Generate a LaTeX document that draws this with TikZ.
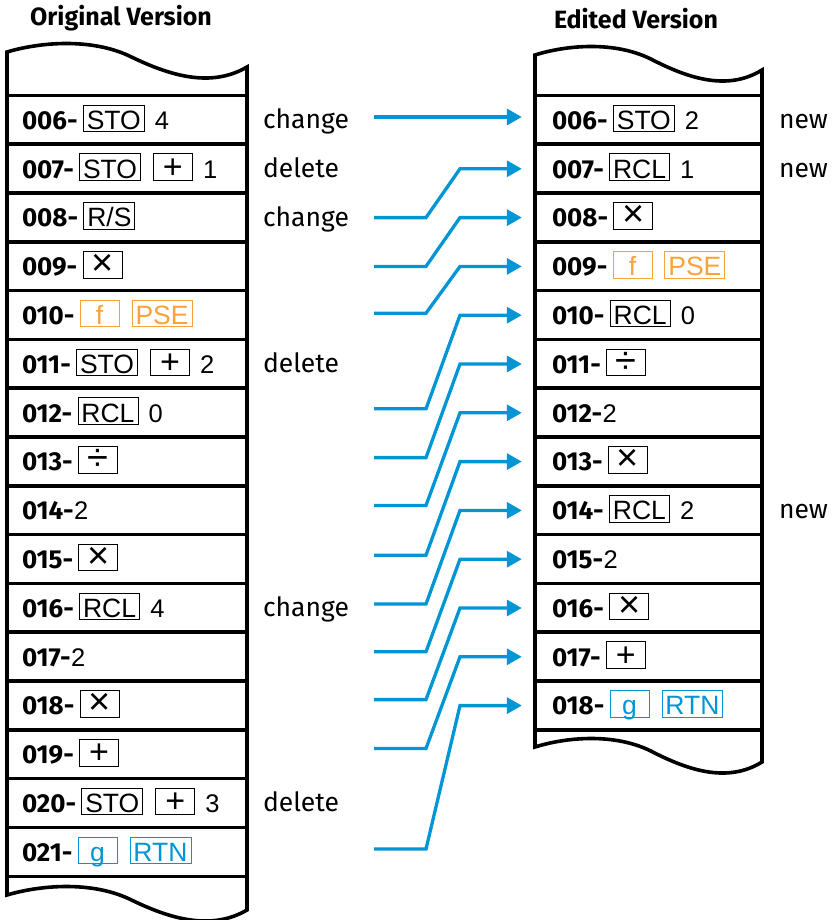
\documentclass[tikz,border=0pt]{standalone}
\usepackage{fontspec}
\setmainfont{Fira Sans}
\newfontfamily\keyfont{Liberation Sans}
\usetikzlibrary{arrows.meta}
\definecolor{hpblue}{RGB}{0,150,214}
\definecolor{hporange}{RGB}{247,163,58}
\newcommand\bigsym[1]{{\fontsize{38}{38}\selectfont #1}}
\newcommand\midsym[1]{{\fontsize{34}{34}\selectfont #1}}
\newcommand\tapeoutline[4]{%
  \draw[tape] (#1,#3) .. controls ({#1+0.14*#2},{#3-10}) and ({#1+0.35*#2},{#3-14}) .. ({#1+0.51*#2},{#3+4})
     .. controls ({#1+0.68*#2},{#3+24}) and ({#1+0.85*#2},{#3+36}) .. ({#1+#2},{#3+15})
     -- ({#1+#2},{#4+15})
     .. controls ({#1+0.85*#2},{#4+36}) and ({#1+0.68*#2},{#4+24}) .. ({#1+0.51*#2},{#4+4})
     .. controls ({#1+0.35*#2},{#4-14}) and ({#1+0.14*#2},{#4-10}) .. (#1,#4) -- cycle;}
\begin{document}
\begin{tikzpicture}[x=1pt,y=-1pt,
  tape/.style={line width=3.6pt, line join=miter},
  divider/.style={line width=3.6pt},
  cell/.style={draw=none, minimum height=48.8pt, inner sep=0pt},
  num/.style={anchor=base west, inner sep=0pt, font=\fontsize{26}{28}\selectfont\bfseries},
  dig/.style={anchor=base west, inner sep=0pt, font=\keyfont\fontsize{25.5}{26}\selectfont},
  lab/.style={anchor=base west, inner sep=0pt, font=\fontsize{26.5}{28}\selectfont},
  title/.style={inner sep=0pt, font=\fontsize{25}{26}\selectfont\bfseries},
  kb/.style={draw, line width=0.9pt, anchor=base west, inner xsep=3.5pt, inner ysep=0pt,
     text height=24.3pt, text depth=2.4pt, minimum width=39pt,
     font=\keyfont\fontsize{26.5}{27}\selectfont},
  okb/.style={kb, draw=hporange, text=hporange},
  bkb/.style={kb, draw=hpblue, text=hpblue},
  arr/.style={draw=hpblue, line width=3.3pt, -{Triangle[length=15pt,width=16pt]}, shorten >=13pt}]
\useasboundingbox (0,0) rectangle (835,920);

% titles
\node[title] (t1) at (121,18) {Original Version};
\node[title] (t2) at (636,19) {Edited Version};

% tapes
\tapeoutline{7}{240}{52}{895}
\tapeoutline{535}{227}{55}{747}

% row cells
\foreach \i in {0,...,15} \node[cell, minimum width=240pt] (L\i) at (127,{120+48.8*\i}) {};
\foreach \i in {0,...,12} \node[cell, minimum width=227pt] (R\i) at (648.5,{120+48.8*\i}) {};
\foreach \i in {0,...,15} \draw[divider] (L\i.north west) -- (L\i.north east);
\draw[divider] (L15.south west) -- (L15.south east);
\foreach \i in {0,...,12} \draw[divider] (R\i.north west) -- (R\i.north east);
\draw[divider] (R12.south west) -- (R12.south east);

% ---- original version ----
\node[num] (nL0) at ([xshift=15pt,yshift=-9.3pt]L0.west) {006-};
\node[kb] (aL0) at ([xshift=5pt]nL0.base east) {STO};
\node[dig] (dL0) at ([xshift=10pt]aL0.base east) {4};

\node[num] (nL1) at ([xshift=15pt,yshift=-9.3pt]L1.west) {007-};
\node[kb] (aL1) at ([xshift=5pt]nL1.base east) {STO};
\node[kb] (bL1) at ([xshift=12pt]aL1.base east) {\midsym{+}};
\node[dig] (dL1) at ([xshift=10pt]bL1.base east) {1};

\node[num] (nL2) at ([xshift=15pt,yshift=-9.3pt]L2.west) {008-};
\node[kb] (aL2) at ([xshift=5pt]nL2.base east) {R/S};

\node[num] (nL3) at ([xshift=15pt,yshift=-9.3pt]L3.west) {009-};
\node[kb] (aL3) at ([xshift=5pt]nL3.base east) {\bigsym{×}};

\node[num] (nL4) at ([xshift=15pt,yshift=-9.3pt]L4.west) {010-};
\node[okb] (aL4) at ([xshift=5pt]nL4.base east) {f};
\node[okb] (bL4) at ([xshift=12pt]aL4.base east) {PSE};

\node[num] (nL5) at ([xshift=15pt,yshift=-9.3pt]L5.west) {011-};
\node[kb] (aL5) at ([xshift=5pt]nL5.base east) {STO};
\node[kb] (bL5) at ([xshift=12pt]aL5.base east) {\midsym{+}};
\node[dig] (dL5) at ([xshift=10pt]bL5.base east) {2};

\node[num] (nL6) at ([xshift=15pt,yshift=-9.3pt]L6.west) {012-};
\node[kb] (aL6) at ([xshift=5pt]nL6.base east) {RCL};
\node[dig] (dL6) at ([xshift=10pt]aL6.base east) {0};

\node[num] (nL7) at ([xshift=15pt,yshift=-9.3pt]L7.west) {013-};
\node[kb] (aL7) at ([xshift=5pt]nL7.base east) {\bigsym{÷}};

\node[num] (nL8) at ([xshift=15pt,yshift=-9.3pt]L8.west) {014-};
\node[dig] (dL8) at (nL8.base east) {2};

\node[num] (nL9) at ([xshift=15pt,yshift=-9.3pt]L9.west) {015-};
\node[kb] (aL9) at ([xshift=5pt]nL9.base east) {\bigsym{×}};

\node[num] (nL10) at ([xshift=15pt,yshift=-9.3pt]L10.west) {016-};
\node[kb] (aL10) at ([xshift=5pt]nL10.base east) {RCL};
\node[dig] (dL10) at ([xshift=10pt]aL10.base east) {4};

\node[num] (nL11) at ([xshift=15pt,yshift=-9.3pt]L11.west) {017-};
\node[dig] (dL11) at (nL11.base east) {2};

\node[num] (nL12) at ([xshift=15pt,yshift=-9.3pt]L12.west) {018-};
\node[kb] (aL12) at ([xshift=5pt]nL12.base east) {\bigsym{×}};

\node[num] (nL13) at ([xshift=15pt,yshift=-9.3pt]L13.west) {019-};
\node[kb] (aL13) at ([xshift=5pt]nL13.base east) {\midsym{+}};

\node[num] (nL14) at ([xshift=15pt,yshift=-9.3pt]L14.west) {020-};
\node[kb] (aL14) at ([xshift=5pt]nL14.base east) {STO};
\node[kb] (bL14) at ([xshift=12pt]aL14.base east) {\midsym{+}};
\node[dig] (dL14) at ([xshift=10pt]bL14.base east) {3};

\node[num] (nL15) at ([xshift=15pt,yshift=-9.3pt]L15.west) {021-};
\node[bkb] (aL15) at ([xshift=5pt]nL15.base east) {g};
\node[bkb] (bL15) at ([xshift=12pt]aL15.base east) {RTN};

% labels
\node[lab] (c0) at ([xshift=256pt,yshift=-8.5pt]L0.west) {change};
\node[lab] (c1) at ([xshift=256pt,yshift=-8.5pt]L1.west) {delete};
\node[lab] (c2) at ([xshift=256pt,yshift=-8.5pt]L2.west) {change};
\node[lab] (c5) at ([xshift=256pt,yshift=-8.5pt]L5.west) {delete};
\node[lab] (c10) at ([xshift=256pt,yshift=-8.5pt]L10.west) {change};
\node[lab] (c14) at ([xshift=256pt,yshift=-8.5pt]L14.west) {delete};

% ---- edited version ----
\node[num] (nR0) at ([xshift=17pt,yshift=-9.3pt]R0.west) {006-};
\node[kb] (aR0) at ([xshift=5pt]nR0.base east) {STO};
\node[dig] (dR0) at ([xshift=10pt]aR0.base east) {2};

\node[num] (nR1) at ([xshift=17pt,yshift=-9.3pt]R1.west) {007-};
\node[kb] (aR1) at ([xshift=5pt]nR1.base east) {RCL};
\node[dig] (dR1) at ([xshift=10pt]aR1.base east) {1};

\node[num] (nR2) at ([xshift=17pt,yshift=-9.3pt]R2.west) {008-};
\node[kb] (aR2) at ([xshift=5pt]nR2.base east) {\bigsym{×}};

\node[num] (nR3) at ([xshift=17pt,yshift=-9.3pt]R3.west) {009-};
\node[okb] (aR3) at ([xshift=5pt]nR3.base east) {f};
\node[okb] (bR3) at ([xshift=12pt]aR3.base east) {PSE};

\node[num] (nR4) at ([xshift=17pt,yshift=-9.3pt]R4.west) {010-};
\node[kb] (aR4) at ([xshift=5pt]nR4.base east) {RCL};
\node[dig] (dR4) at ([xshift=10pt]aR4.base east) {0};

\node[num] (nR5) at ([xshift=17pt,yshift=-9.3pt]R5.west) {011-};
\node[kb] (aR5) at ([xshift=5pt]nR5.base east) {\bigsym{÷}};

\node[num] (nR6) at ([xshift=17pt,yshift=-9.3pt]R6.west) {012-};
\node[dig] (dR6) at (nR6.base east) {2};

\node[num] (nR7) at ([xshift=17pt,yshift=-9.3pt]R7.west) {013-};
\node[kb] (aR7) at ([xshift=5pt]nR7.base east) {\bigsym{×}};

\node[num] (nR8) at ([xshift=17pt,yshift=-9.3pt]R8.west) {014-};
\node[kb] (aR8) at ([xshift=5pt]nR8.base east) {RCL};
\node[dig] (dR8) at ([xshift=10pt]aR8.base east) {2};

\node[num] (nR9) at ([xshift=17pt,yshift=-9.3pt]R9.west) {015-};
\node[dig] (dR9) at (nR9.base east) {2};

\node[num] (nR10) at ([xshift=17pt,yshift=-9.3pt]R10.west) {016-};
\node[kb] (aR10) at ([xshift=5pt]nR10.base east) {\bigsym{×}};

\node[num] (nR11) at ([xshift=17pt,yshift=-9.3pt]R11.west) {017-};
\node[kb] (aR11) at ([xshift=5pt]nR11.base east) {\midsym{+}};

\node[num] (nR12) at ([xshift=17pt,yshift=-9.3pt]R12.west) {018-};
\node[bkb] (aR12) at ([xshift=5pt]nR12.base east) {g};
\node[bkb] (bR12) at ([xshift=12pt]aR12.base east) {RTN};

\node[lab] (w0) at ([xshift=244pt,yshift=-8.5pt]R0.west) {new};
\node[lab] (w1) at ([xshift=244pt,yshift=-8.5pt]R1.west) {new};
\node[lab] (w8) at ([xshift=244pt,yshift=-8.5pt]R8.west) {new};

% ---- arrows ----
\coordinate (k1) at (426,0);
\coordinate (k2) at (460,0);
\coordinate (s0) at ([xshift=127pt,yshift=3pt]L0.east);
\draw[arr] (s0) -- (s0 -| R0.west);
\foreach \a/\b/\s in {2/1/0, 3/2/0, 4/3/2, 6/4/4, 7/5/4, 8/6/5, 9/7/4, 10/8/4, 11/9/5, 12/10/6, 13/11/6, 15/12/3} {
  \coordinate (s\a) at ([xshift=127pt,yshift=\s pt]L\a.east);
  \draw[arr] (s\a) -- (s\a -| k1) -- (k2 |- R\b.west) -- (R\b.west);
}
\end{tikzpicture}
\end{document}
